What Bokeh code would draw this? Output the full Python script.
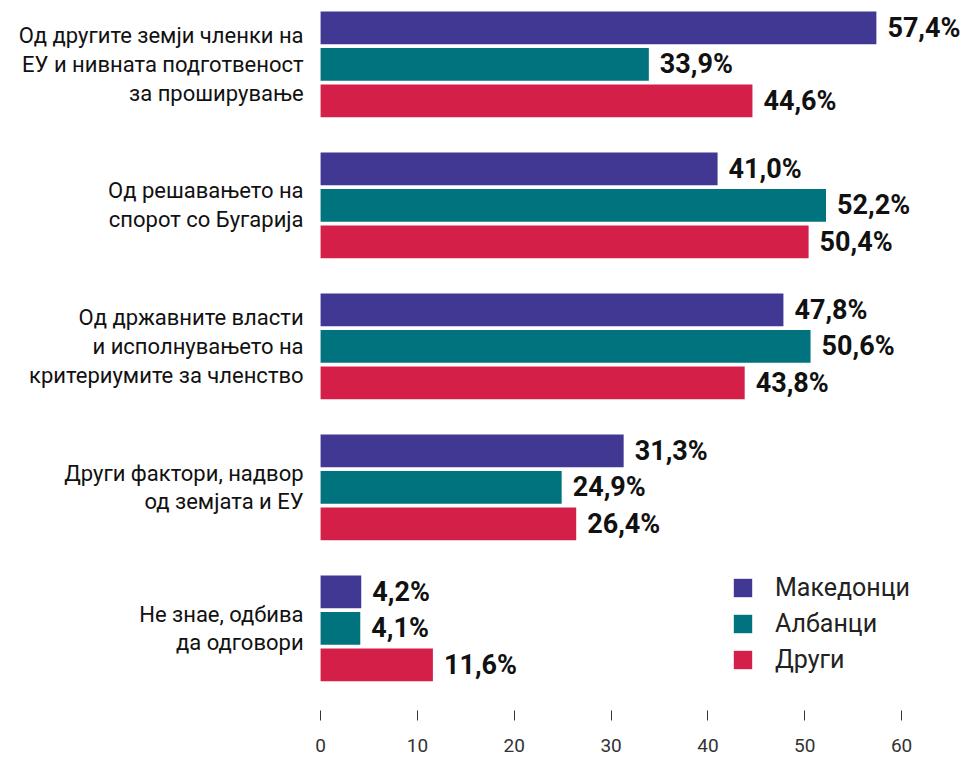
from bokeh.plotting import figure
from bokeh.models import ColumnDataSource, Range1d, FixedTicker, Legend, LegendItem
from bokeh.core.properties import value
from bokeh.embed import file_html
from bokeh.resources import INLINE

categories = [
    "Од другите земји членки на\nЕУ и нивната подготвеност\nза проширување",
    "Од решавањето на\nспорот со Бугарија",
    "Од државните власти\nи исполнувањето на\nкритериумите за членство",
    "Други фактори, надвор\nод земјата и ЕУ",
    "Не знае, одбива\nда одговори",
]
series_names = ["Македонци", "Албанци", "Други"]
makedonci = [57.4, 41.0, 47.8, 31.3, 4.2]
albanci = [33.9, 52.2, 50.6, 24.9, 4.1]
drugi = [44.6, 50.4, 43.8, 26.4, 11.6]
x_ticks = [0, 10, 20, 30, 40, 50, 60]

colors = ["#403893", "#00737f", "#d42049"]
FONT = "Roboto"
PITCH = 3.863  # group pitch in bar slots

p = figure(frame_width=956, frame_height=702, output_backend="svg",
           toolbar_location=None, x_range=Range1d(-32.23, 66.5),
           y_range=Range1d(18.70, -0.529), min_border=0,
           min_border_left=8, min_border_top=8, min_border_bottom=48,
           outline_line_color=None)
p.xgrid.visible = False
p.ygrid.visible = False
p.yaxis.visible = False

renderers = []
for s, (name, vals, col) in enumerate(zip(series_names, [makedonci, albanci, drugi], colors)):
    ys = [g * PITCH + s for g in range(len(categories))]
    src = ColumnDataSource(dict(y=ys, v=vals, lab=[f"{v:.1f}".replace(".", ",") + "%" for v in vals]))
    r = p.hbar(y="y", right="v", left=0, height=0.896, source=src, color=col, line_color=None)
    renderers.append((name, r))
    p.text(x="v", y="y", text="lab", source=src, x_offset=11, text_align="left",
           text_baseline="middle", text_font=value(FONT), text_font_style="bold",
           text_font_size="27px", text_color="#111111")

csrc = ColumnDataSource(dict(x=[0] * len(categories),
                             y=[g * PITCH + 1 for g in range(len(categories))],
                             t=categories))
p.text(x="x", y="y", text="t", source=csrc, x_offset=-17, text_align="right",
       text_baseline="middle", text_font=value(FONT), text_font_size="22px",
       text_color="#111111", text_line_height=1.15)

ax = p.xaxis[0]
ax.ticker = FixedTicker(ticks=x_ticks)
ax.axis_line_color = None
ax.major_tick_in = 0
ax.major_tick_out = 10
ax.minor_tick_line_color = None
ax.major_tick_line_color = "#333333"
ax.major_label_standoff = 18
ax.major_label_text_font = FONT
ax.major_label_text_font_size = "19px"
ax.major_label_text_color = "#333333"

legend = Legend(items=[LegendItem(label=n, renderers=[r]) for n, r in renderers],
                location=(723, 36), orientation="vertical",
                glyph_width=23, glyph_height=23, label_height=23,
                spacing=7, padding=0, margin=0, label_standoff=21,
                label_text_font=FONT, label_text_font_size="25px",
                label_text_color="#222222", border_line_color=None,
                background_fill_alpha=0)
p.add_layout(legend)

open("out.html", "w").write(file_html(p, INLINE))
